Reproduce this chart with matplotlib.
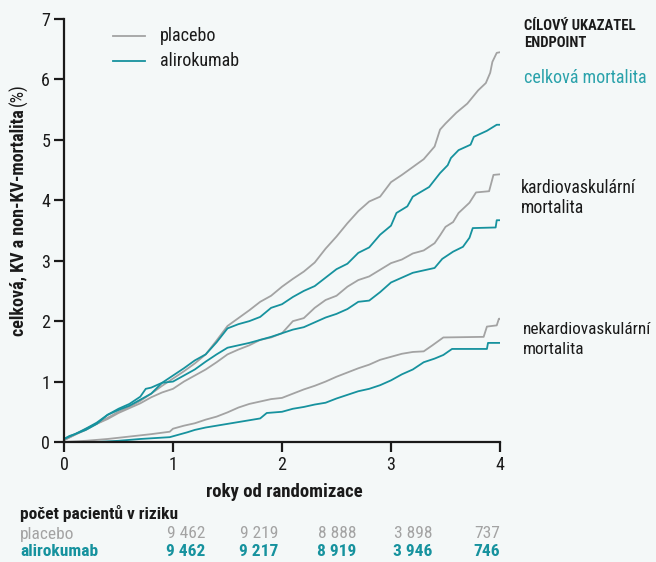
import matplotlib
matplotlib.use("Agg")
import matplotlib.pyplot as plt
from matplotlib import font_manager

# ---------------- data ----------------
t_pl_total = [0, 0.1, 0.2, 0.3, 0.4, 0.5, 0.6, 0.7, 0.8, 0.9, 1.0, 1.1, 1.2, 1.3, 1.4, 1.5,
              1.6, 1.7, 1.8, 1.9, 2.0, 2.1, 2.2, 2.3, 2.4, 2.5, 2.6, 2.7, 2.8, 2.9, 3.0,
              3.1, 3.2, 3.3, 3.4, 3.45, 3.5, 3.6, 3.7, 3.8, 3.87, 3.91, 3.93, 3.97, 4.0]
v_pl_total = [0.03, 0.12, 0.22, 0.3, 0.4, 0.5, 0.58, 0.68, 0.8, 0.93, 1.05, 1.17, 1.3, 1.45, 1.68, 1.92,
              2.05, 2.18, 2.32, 2.42, 2.57, 2.7, 2.82, 2.97, 3.2, 3.4, 3.62, 3.82, 3.98, 4.06, 4.3,
              4.42, 4.55, 4.68, 4.89, 5.17, 5.27, 5.45, 5.6, 5.82, 5.94, 6.11, 6.29, 6.44, 6.45]

t_al_total = [0, 0.05, 0.1, 0.2, 0.3, 0.4, 0.5, 0.6, 0.7, 0.75, 0.8, 0.9, 1.0, 1.1, 1.2, 1.3, 1.4,
              1.5, 1.6, 1.7, 1.8, 1.9, 2.0, 2.1, 2.2, 2.3, 2.4, 2.5, 2.6, 2.7, 2.8, 2.9, 3.0,
              3.05, 3.15, 3.2, 3.35, 3.45, 3.52, 3.55, 3.62, 3.73, 3.76, 3.88, 3.97, 4.0]
v_al_total = [0.05, 0.1, 0.13, 0.22, 0.32, 0.45, 0.55, 0.63, 0.75, 0.88, 0.9, 0.98, 1.1, 1.22, 1.35, 1.45, 1.65,
              1.88, 1.95, 2.0, 2.07, 2.22, 2.28, 2.4, 2.5, 2.58, 2.72, 2.86, 2.95, 3.13, 3.22, 3.43, 3.58,
              3.79, 3.9, 4.06, 4.22, 4.45, 4.58, 4.7, 4.83, 4.92, 5.05, 5.15, 5.25, 5.25]

t_pl_cv = [0, 0.1, 0.2, 0.3, 0.4, 0.5, 0.6, 0.7, 0.8, 0.9, 1.0, 1.1, 1.2, 1.3, 1.4, 1.5, 1.6,
           1.7, 1.8, 1.9, 2.0, 2.1, 2.2, 2.3, 2.4, 2.5, 2.6, 2.7, 2.8, 2.9, 3.0, 3.1, 3.2,
           3.3, 3.4, 3.45, 3.5, 3.57, 3.62, 3.72, 3.78, 3.9, 3.94, 4.0]
v_pl_cv = [0.03, 0.12, 0.2, 0.3, 0.38, 0.48, 0.56, 0.64, 0.74, 0.82, 0.88, 1.0, 1.1, 1.2, 1.32, 1.45, 1.53,
           1.6, 1.69, 1.73, 1.8, 2.0, 2.05, 2.22, 2.35, 2.42, 2.57, 2.68, 2.74, 2.85, 2.96, 3.02, 3.12,
           3.17, 3.29, 3.42, 3.56, 3.64, 3.79, 3.96, 4.13, 4.15, 4.42, 4.43]

t_al_cv = [0, 0.1, 0.2, 0.3, 0.4, 0.5, 0.6, 0.7, 0.8, 0.9, 1.0, 1.1, 1.2, 1.3, 1.4, 1.5, 1.6,
           1.7, 1.8, 1.9, 2.0, 2.1, 2.2, 2.3, 2.4, 2.5, 2.6, 2.7, 2.8, 2.9, 3.0, 3.1, 3.2,
           3.3, 3.4, 3.47, 3.57, 3.66, 3.72, 3.75, 3.96, 3.97, 4.0]
v_al_cv = [0.05, 0.13, 0.2, 0.3, 0.45, 0.53, 0.6, 0.7, 0.8, 0.98, 1.0, 1.1, 1.2, 1.33, 1.45, 1.56, 1.6,
           1.64, 1.69, 1.74, 1.8, 1.86, 1.9, 1.98, 2.06, 2.12, 2.2, 2.32, 2.34, 2.48, 2.64, 2.72, 2.8,
           2.84, 2.88, 3.03, 3.15, 3.23, 3.38, 3.54, 3.55, 3.67, 3.67]

t_pl_noncv = [0, 0.2, 0.4, 0.6, 0.8, 0.97, 1.0, 1.1, 1.2, 1.3, 1.4, 1.5, 1.6, 1.7, 1.8, 1.9,
              2.0, 2.1, 2.2, 2.3, 2.4, 2.5, 2.6, 2.7, 2.8, 2.9, 3.0, 3.1, 3.2, 3.3, 3.38,
              3.48, 3.85, 3.88, 3.97, 3.99, 4.0]
v_pl_noncv = [0.0, 0.02, 0.05, 0.09, 0.13, 0.17, 0.22, 0.27, 0.31, 0.37, 0.42, 0.49, 0.57, 0.63, 0.67, 0.71,
              0.73, 0.8, 0.87, 0.93, 1.0, 1.08, 1.15, 1.22, 1.28, 1.36, 1.41, 1.46, 1.49, 1.5, 1.6,
              1.73, 1.74, 1.91, 1.93, 2.04, 2.04]

t_al_noncv = [0, 0.3, 0.5, 0.7, 0.97, 1.05, 1.13, 1.2, 1.3, 1.4, 1.5, 1.6, 1.7, 1.8, 1.86, 2.0,
              2.1, 2.2, 2.3, 2.4, 2.5, 2.6, 2.7, 2.8, 2.9, 3.0, 3.1, 3.2, 3.3, 3.4, 3.48,
              3.56, 3.88, 3.89, 4.0]
v_al_noncv = [0.0, 0.0, 0.02, 0.05, 0.08, 0.12, 0.16, 0.2, 0.24, 0.27, 0.3, 0.33, 0.36, 0.39, 0.48, 0.5,
              0.55, 0.58, 0.62, 0.65, 0.72, 0.78, 0.84, 0.88, 0.94, 1.02, 1.12, 1.2, 1.32, 1.38, 1.44,
              1.54, 1.54, 1.64, 1.64]

x_ticks = [0, 1, 2, 3, 4]
y_ticks = [0, 1, 2, 3, 4, 5, 6, 7]
risk_placebo = ["9 462", "9 219", "8 888", "3 898", "737"]
risk_aliro = ["9 462", "9 217", "8 919", "3 946", "746"]

# ---------------- style ----------------
avail = {f.name for f in font_manager.fontManager.ttflist}
fam = "DejaVu Sans"
for cand in ["Roboto Condensed", "Liberation Sans Narrow", "Open Sans Condensed", "DejaVu Sans"]:
    if cand in avail:
        fam = cand
        break
plt.rcParams["font.family"] = [fam, "DejaVu Sans"]

BG = "#f4f8f8"
GRAY = "#a3a3a3"
TEAL = "#16929e"
TEAL_TXT = "#2aa2ab"
DARK = "#1a1a1a"

W, H = 656, 562
fig = plt.figure(figsize=(W / 100, H / 100), dpi=100, facecolor=BG)

def fx(px):
    return px / W

def fy(py):
    return 1 - py / H

ax = fig.add_axes([fx(64), fy(442), fx(500) - fx(64), fy(19) - fy(442)])
ax.set_facecolor(BG)

lw = 1.3
ax.plot(t_pl_total, v_pl_total, color=GRAY, lw=lw)
ax.plot(t_pl_cv, v_pl_cv, color=GRAY, lw=lw)
ax.plot(t_pl_noncv, v_pl_noncv, color=GRAY, lw=lw)
ax.plot(t_al_total, v_al_total, color=TEAL, lw=lw)
ax.plot(t_al_cv, v_al_cv, color=TEAL, lw=lw)
ax.plot(t_al_noncv, v_al_noncv, color=TEAL, lw=lw)

ax.set_xlim(0, 4)
ax.set_ylim(0, 7)
ax.set_xticks(x_ticks)
ax.set_yticks(y_ticks)
ax.set_xticklabels([str(v) for v in x_ticks], fontsize=13, color=DARK)
ax.set_yticklabels([str(v) for v in y_ticks], fontsize=13, color=DARK)
for s in ["top", "right"]:
    ax.spines[s].set_visible(False)
for s in ["left", "bottom"]:
    ax.spines[s].set_linewidth(1.6)
    ax.spines[s].set_color(DARK)
ax.tick_params(axis="both", direction="out", length=7, width=1.6, color=DARK, pad=3)

# legend
ax_leg_lines = [(36, GRAY, "placebo"), (61, TEAL, "alirokumab")]
for py, c, lab in ax_leg_lines:
    fig.add_artist(plt.Line2D([fx(113), fx(145)], [fy(py), fy(py)], color=c, lw=1.3))
    fig.text(fx(160), fy(py), lab, fontsize=13, color=DARK, va="center", ha="left")

# axis labels
fig.text(fx(284), fy(492), "roky od randomizace", fontsize=13.5, fontweight="bold",
         color=DARK, ha="center", va="center")
ylab = fig.text(fx(18), fy(336), "celková, KV a non-KV-mortalita", fontsize=13, fontweight="bold",
                color=DARK, rotation=90, ha="center", va="bottom")
fig.canvas.draw()
bb = ylab.get_window_extent(fig.canvas.get_renderer())
fig.text(fx(18), (bb.y1 + 3) / H, "(%)", fontsize=13, color=DARK, rotation=90,
         ha="center", va="bottom")

# right annotations
fig.text(fx(524), fy(26), "CÍLOVÝ UKAZATEL", fontsize=10.5, fontweight="bold", color=DARK,
         ha="left", va="center")
fig.text(fx(524), fy(43), "ENDPOINT", fontsize=10.5, fontweight="bold", color=DARK,
         ha="left", va="center")
fig.text(fx(524), fy(78), "celková mortalita", fontsize=13, color=TEAL_TXT, ha="left", va="center")
fig.text(fx(521), fy(188), "kardiovaskulární", fontsize=12.8, color=DARK, ha="left", va="center")
fig.text(fx(521), fy(208), "mortalita", fontsize=12.8, color=DARK, ha="left", va="center")
fig.text(fx(523), fy(330), "nekardiovaskulární", fontsize=12.4, color=DARK, ha="left", va="center")
fig.text(fx(523), fy(350), "mortalita", fontsize=12.4, color=DARK, ha="left", va="center")

# risk table
fig.text(fx(20), fy(513), "počet pacientů v riziku", fontsize=12.5, fontweight="bold", color=DARK,
         ha="left", va="center")
fig.text(fx(20), fy(534), "placebo", fontsize=12.5, color=GRAY, ha="left", va="center")
fig.text(fx(20), fy(552), "alirokumab", fontsize=12.5, fontweight="bold", color=TEAL, ha="left", va="center")
right_edges = [205, 278, 356, 432, 500]
for xr, a, b in zip(right_edges, risk_placebo, risk_aliro):
    fig.text(fx(xr), fy(534), a, fontsize=12.5, color=GRAY, ha="right", va="center")
    fig.text(fx(xr), fy(552), b, fontsize=12.5, fontweight="bold", color=TEAL, ha="right", va="center")

fig.savefig("out.png", dpi=100, facecolor=BG)
